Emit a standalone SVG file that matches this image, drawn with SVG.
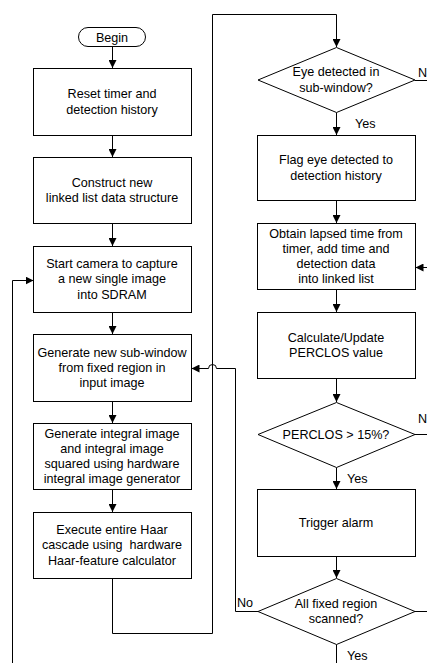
<svg xmlns="http://www.w3.org/2000/svg" width="427" height="663" viewBox="0 0 427 663">
<style>
.n{fill:#fff;stroke:#000;stroke-width:1}
.c{fill:none;stroke:#000;stroke-width:1}
text{font-family:"Liberation Sans",Arial,sans-serif;font-size:12.6px;fill:#000}
.m{text-anchor:middle}
</style>
<defs>
<marker id="ah" viewBox="0 0 10 10" refX="10" refY="5" markerWidth="8" markerHeight="8" markerUnits="userSpaceOnUse" orient="auto">
<path d="M0,0 L10,5 L0,10 z" fill="#000"/>
</marker>
</defs>
<rect width="427" height="663" fill="#fff"/>
<g id="connectors">
<path class="c" d="M112.5,46.5 V68" marker-end="url(#ah)"/>
<path class="c" d="M112.5,135.5 V157" marker-end="url(#ah)"/>
<path class="c" d="M112.5,223.5 V246" marker-end="url(#ah)"/>
<path class="c" d="M112.5,312.5 V334" marker-end="url(#ah)"/>
<path class="c" d="M112.5,401.5 V423" marker-end="url(#ah)"/>
<path class="c" d="M112.5,489.5 V512" marker-end="url(#ah)"/>
<path class="c" d="M112.5,578.5 V633.5 H212.5 V14.5 H336.5 V47" marker-end="url(#ah)"/>
<path class="c" d="M336.5,112.5 V135" marker-end="url(#ah)"/>
<path class="c" d="M336.5,200.5 V223" marker-end="url(#ah)"/>
<path class="c" d="M336.5,289.5 V312" marker-end="url(#ah)"/>
<path class="c" d="M336.5,378.5 V402" marker-end="url(#ah)"/>
<path class="c" d="M336.5,467.5 V489" marker-end="url(#ah)"/>
<path class="c" d="M336.5,556.5 V578" marker-end="url(#ah)"/>
<path class="c" d="M336.5,644.5 V663"/>
<path class="c" d="M258,611.5 H235.5 V368.5 H216.5 A4,4 0 0 0 208.5,368.5 H191.5" marker-end="url(#ah)"/>
<path class="c" d="M415,80.5 H427"/>
<path class="c" d="M415,434.5 H427"/>
<path class="c" d="M415,611.5 H427"/>
<path class="c" d="M427,267.5 H415.5" marker-end="url(#ah)"/>
<path class="c" d="M12.5,663 V280.5 H33.5" marker-end="url(#ah)"/>
<text x="355" y="128">Yes</text>
<text x="347" y="483">Yes</text>
<text x="347" y="660">Yes</text>
<text x="237" y="607">No</text>
<text x="418" y="77">N</text>
<text x="418" y="423">N</text>
</g>
<g id="begin">
<rect class="n" x="78.5" y="27.5" width="67" height="19" rx="9.5"/>
<text class="m" x="112" y="41.5">Begin</text>
</g>
<g id="reset">
<rect class="n" x="33.5" y="68.5" width="158" height="67"/>
<text class="m" x="112" y="98.3">Reset timer and</text>
<text class="m" x="112" y="113.5">detection history</text>
</g>
<g id="construct">
<rect class="n" x="33.5" y="157.5" width="158" height="66"/>
<text class="m" x="112" y="186.8">Construct new</text>
<text class="m" x="112" y="202">linked list data structure</text>
</g>
<g id="camera">
<rect class="n" x="33.5" y="246.5" width="158" height="66"/>
<text class="m" x="112" y="268.2">Start camera to capture</text>
<text class="m" x="112" y="283.4">a new single image</text>
<text class="m" x="112" y="298.6">into SDRAM</text>
</g>
<g id="subwindow">
<rect class="n" x="33.5" y="334.5" width="158" height="67"/>
<text class="m" x="112" y="356.7">Generate new sub-window</text>
<text class="m" x="112" y="371.9">from fixed region in</text>
<text class="m" x="112" y="387.1">input image</text>
</g>
<g id="integral">
<rect class="n" x="33.5" y="423.5" width="158" height="66"/>
<text class="m" x="112" y="437.6">Generate integral image</text>
<text class="m" x="112" y="452.8">and integral image</text>
<text class="m" x="112" y="468">squared using hardware</text>
<text class="m" x="112" y="483.2">integral image generator</text>
</g>
<g id="haar">
<rect class="n" x="33.5" y="512.5" width="158" height="66"/>
<text class="m" x="112" y="534.2">Execute entire Haar</text>
<text class="m" x="112" y="549.4" xml:space="preserve">cascade using  hardware</text>
<text class="m" x="112" y="564.6">Haar-feature calculator</text>
</g>
<g id="eye">
<polygon class="n" points="336.5,47.5 415,80 336.5,112.5 258,80"/>
<text class="m" x="336" y="76.3">Eye detected in</text>
<text class="m" x="336" y="91.5">sub-window?</text>
</g>
<g id="flag">
<rect class="n" x="257.5" y="135.5" width="158" height="65"/>
<text class="m" x="336" y="164.3">Flag eye detected to</text>
<text class="m" x="336" y="179.5">detection history</text>
</g>
<g id="obtain">
<rect class="n" x="257.5" y="223.5" width="158" height="66"/>
<text class="m" x="336" y="237.6">Obtain lapsed time from</text>
<text class="m" x="336" y="252.8">timer, add time and</text>
<text class="m" x="336" y="268">detection data</text>
<text class="m" x="336" y="283.2">into linked list</text>
</g>
<g id="perclos-calc">
<rect class="n" x="257.5" y="312.5" width="158" height="66"/>
<text class="m" x="336" y="341.8">Calculate/Update</text>
<text class="m" x="336" y="357">PERCLOS value</text>
</g>
<g id="perclos-check">
<polygon class="n" points="336.5,402.5 415,434.5 336.5,467.5 258,434.5"/>
<text class="m" x="336" y="438.9">PERCLOS &gt; 15%?</text>
</g>
<g id="alarm">
<rect class="n" x="257.5" y="489.5" width="158" height="67"/>
<text class="m" x="336" y="526.9">Trigger alarm</text>
</g>
<g id="scanned">
<polygon class="n" points="336.5,578.5 415,611.5 336.5,644.5 258,611.5"/>
<text class="m" x="336" y="607.8">All fixed region</text>
<text class="m" x="336" y="623">scanned?</text>
</g>
</svg>
